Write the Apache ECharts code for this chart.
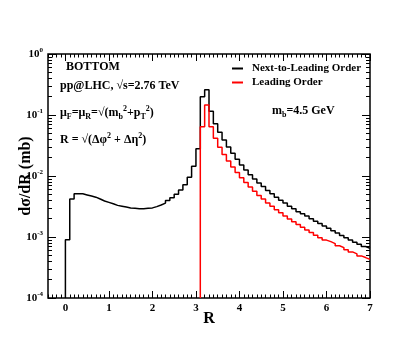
<!DOCTYPE html>
<html>
<head>
<meta charset="utf-8">
<script src="https://cdn.jsdelivr.net/npm/echarts@6/dist/echarts.min.js"></script>
<style>
  html, body { margin: 0; padding: 0; background: #fff; }
  #main { width: 415px; height: 352px; }
</style>
</head>
<body>
<div id="main"></div>
<script>
// bin edges in R (bins of 0.1)
var binEdges = [0.0, 0.1, 0.2, 0.3, 0.4, 0.5, 0.6, 0.7, 0.8, 0.9,
  1.0, 1.1, 1.2, 1.3, 1.4, 1.5, 1.6, 1.7, 1.8, 1.9,
  2.0, 2.1, 2.2, 2.3, 2.4, 2.5, 2.6, 2.7, 2.8, 2.9,
  3.0, 3.1, 3.2, 3.3, 3.4, 3.5, 3.6, 3.7, 3.8, 3.9,
  4.0, 4.1, 4.2, 4.3, 4.4, 4.5, 4.6, 4.7, 4.8, 4.9,
  5.0, 5.1, 5.2, 5.3, 5.4, 5.5, 5.6, 5.7, 5.8, 5.9,
  6.0, 6.1, 6.2, 6.3, 6.4, 6.5, 6.6, 6.7, 6.8, 6.9, 7.0];

// Next-to-Leading Order, d sigma / dR (mb), one value per bin starting at R = 0
var nloValues = [9.0e-4, 4.2e-3, 5.1e-3, 5.1e-3, 4.9e-3, 4.7e-3, 4.5e-3, 4.2e-3, 3.9e-3, 3.7e-3,
  3.5e-3, 3.3e-3, 3.2e-3, 3.1e-3, 3.0e-3, 2.95e-3, 2.9e-3, 2.9e-3, 2.95e-3, 3.0e-3,
  3.15e-3, 3.35e-3, 3.6e-3, 3.95e-3, 4.4e-3, 5.0e-3, 5.9e-3, 7.2e-3, 9.5e-3, 1.45e-2,
  2.8e-2, 0.20, 0.26, 0.115, 0.072, 0.052, 0.039, 0.030, 0.0235, 0.0188,
  0.0152, 0.0125, 0.0105, 0.0089, 0.0077, 0.0067, 0.0058, 0.0051, 0.0045, 0.0040,
  0.0036, 0.0032, 0.0029, 0.0026, 0.0024, 0.0022, 0.0020, 0.00182, 0.00166, 0.00152,
  0.00139, 0.00127, 0.00116, 0.00106, 0.00097, 0.00089, 0.00082, 0.00076, 0.00070, 0.00065];

// Leading Order, starts at the bin R = 3.1
var loStartBin = 31;
var loValues = [0.064, 0.146, 0.064, 0.0415, 0.0295, 0.0225, 0.0176, 0.0140, 0.0114,
  0.0094, 0.0078, 0.0066, 0.0056, 0.0048, 0.0042, 0.0036, 0.0032, 0.0028, 0.0025,
  0.0022, 0.00198, 0.00178, 0.0016, 0.00144, 0.0013, 0.00118, 0.00107, 0.00097, 0.00089,
  0.00084, 0.00078, 0.00072, 0.00067, 0.00062, 0.00057, 0.00053, 0.00049, 0.00046, 0.00043];

var xMajorTicks = [0, 1, 2, 3, 4, 5, 6, 7];
var yDecades = [-4, -3, -2, -1, 0];
var yFloor = 1e-4;

// tick positions in log10 space for the tick-only axes
var yMinorTicks = [];
yDecades.slice(0, 4).forEach(function (d) {
  for (var k = 2; k <= 9; k++) yMinorTicks.push(d + Math.log10(k));
});

function histo(startBin, vals) {
  var pts = [[binEdges[startBin], yFloor]];
  for (var i = 0; i < vals.length; i++) {
    pts.push([binEdges[startBin + i], vals[i]]);
  }
  pts.push([binEdges[startBin + vals.length], vals[vals.length - 1]]);
  return pts;
}

var font = 'Liberation Serif';
var myChart = echarts.init(document.getElementById('main'));

function xAxisOf(pos, major, labels) {
  return {
    type: 'value', position: pos, min: -0.4, max: 7,
    interval: major ? undefined : 0.1,
    splitLine: { show: false },
    axisLine: { show: false, onZero: false },
    axisTick: major ? {
      inside: true, length: 7, lineStyle: { color: '#000', width: 1 },
      customValues: xMajorTicks
    } : { inside: true, length: 3.5, lineStyle: { color: '#000', width: 1 } },
    axisLabel: (major && labels) ? {
      customValues: xMajorTicks, color: '#000', fontFamily: font,
      fontWeight: 'bold', fontSize: 11, margin: 5
    } : { show: false },
    name: (major && labels) ? 'R' : '',
    nameLocation: 'middle', nameGap: 13, nameMoveOverlap: false,
    nameTextStyle: { color: '#000', fontFamily: font, fontWeight: 'bold', fontSize: 16 }
  };
}

// tick-only y axes in log10 space
function yTickAxis(pos, major) {
  return {
    type: 'value', position: pos, min: -4, max: 0,
    splitLine: { show: false },
    axisLine: { show: false, onZero: false },
    axisLabel: { show: false },
    axisTick: {
      inside: true, length: major ? 8 : 4,
      lineStyle: { color: '#000', width: 1 },
      customValues: major ? yDecades : yMinorTicks
    }
  };
}

var richText = {
  n: { fontFamily: font, fontWeight: 'bold', fontSize: 12, color: '#000', lineHeight: 16 },
  sub: { fontFamily: font, fontWeight: 'bold', fontSize: 8, color: '#000', verticalAlign: 'bottom', lineHeight: 8 },
  sup: { fontFamily: font, fontWeight: 'bold', fontSize: 8, color: '#000', verticalAlign: 'top', lineHeight: 8 }
};

function label(x, y, txt) {
  return {
    type: 'text', left: x, top: y,
    style: { text: txt, rich: richText, fill: '#000' }
  };
}

var option = {
  animation: false,
  backgroundColor: '#fff',
  grid: {
    left: 48, right: 45, top: 54, bottom: 54,
    containLabel: false, outerBoundsMode: 'none',
    show: true, borderColor: '#000', borderWidth: 1.5, backgroundColor: 'transparent'
  },
  legend: {
    orient: 'vertical', left: 232, top: 63, itemGap: 3, padding: 0,
    icon: 'rect', itemWidth: 11, itemHeight: 2,
    textStyle: { fontFamily: font, fontWeight: 'bold', fontSize: 11, color: '#000', padding: [0, 0, 0, 4] },
    data: ['Next-to-Leading Order', 'Leading Order']
  },
  xAxis: [
    xAxisOf('bottom', true, true),
    xAxisOf('bottom', false, false),
    xAxisOf('top', true, false),
    xAxisOf('top', false, false)
  ],
  yAxis: [
    {
      type: 'log', logBase: 10, position: 'left', min: 1e-4, max: 1,
      splitLine: { show: false },
      axisLine: { show: false, onZero: false },
      axisTick: { show: false },
      minorTick: { show: false },
      axisLabel: {
        color: '#000', margin: 5,
        formatter: function (v) {
          var e = Math.round(Math.log10(v));
          return '{b|10}{s|' + e + '}';
        },
        rich: {
          b: { fontFamily: font, fontWeight: 'bold', fontSize: 11, color: '#000', lineHeight: 14 },
          s: { fontFamily: font, fontWeight: 'bold', fontSize: 7, color: '#000', verticalAlign: 'top', lineHeight: 8 }
        }
      },
      name: 'dσ/dR (mb)',
      nameLocation: 'middle', nameGap: 14, nameRotate: 90, nameMoveOverlap: false,
      nameTextStyle: { color: '#000', fontFamily: font, fontWeight: 'bold', fontSize: 16 }
    },
    yTickAxis('left', true),
    yTickAxis('left', false),
    yTickAxis('right', true),
    yTickAxis('right', false)
  ],
  graphic: [
    label(66, 61, '{n|BOTTOM}'),
    label(60, 80, '{n|pp@LHC, √s=2.76 TeV}'),
    label(60, 105, '{n|μ}{sub|F}{n|=μ}{sub|R}{n|=√(m}{sub|b}{sup|2}{n|+p}{sub|T}{sup|2}{n|)}'),
    label(60, 132, '{n|R = √(Δφ}{sup|2}{n| + Δη}{sup|2}{n|)}'),
    label(272, 105, '{n|m}{sub|b}{n|=4.5 GeV}')
  ],
  series: [
    {
      name: 'Next-to-Leading Order', type: 'line', step: 'end',
      xAxisIndex: 0, yAxisIndex: 0, showSymbol: false, symbol: 'none',
      lineStyle: { color: '#000', width: 1.5 }, itemStyle: { color: '#000' },
      data: histo(0, nloValues)
    },
    {
      name: 'Leading Order', type: 'line', step: 'end',
      xAxisIndex: 0, yAxisIndex: 0, showSymbol: false, symbol: 'none',
      lineStyle: { color: '#ff0000', width: 1.5 }, itemStyle: { color: '#ff0000' },
      data: histo(loStartBin, loValues)
    }
  ]
};
myChart.setOption(option);
window.addEventListener('resize', function () {
  myChart.resize();
});
</script>
</body>
</html>
